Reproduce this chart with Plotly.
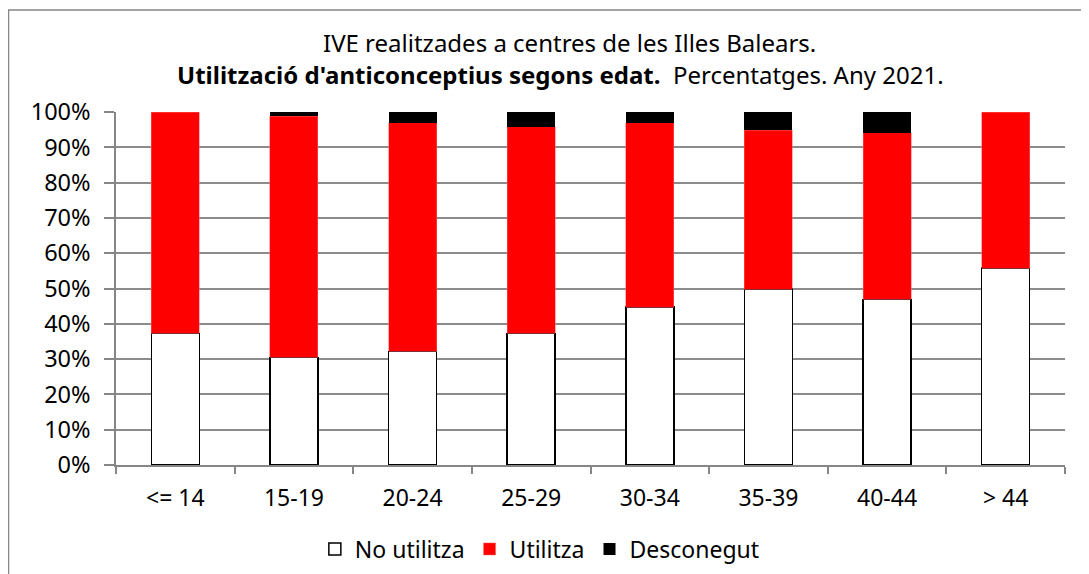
import plotly.graph_objects as go

categories = ["<= 14", "15-19", "20-24", "25-29", "30-34", "35-39", "40-44", "> 44"]
no_utilitza = [37.3, 30.5, 32.2, 37.3, 44.7, 49.8, 46.9, 55.8]
utilitza = [62.7, 68.3, 64.8, 58.5, 52.3, 45.0, 47.2, 44.2]
desconegut = [0.0, 1.2, 3.0, 4.2, 3.0, 5.2, 5.9, 0.0]
y_ticks = [0, 10, 20, 30, 40, 50, 60, 70, 80, 90, 100]
y_tick_labels = [f"{v}%" for v in y_ticks]

FONT = "Noto Sans"
W, H = 1081, 566
L, R, T, B = 108, 24, 104, 109
PW, PH = W - L - R, H - T - B

def px(x):
    return (x - L) / PW

def py(y):
    return (H - B - y) / PH

fig = go.Figure()
fig.add_trace(go.Bar(name="No utilitza", x=categories, y=no_utilitza,
                     marker=dict(color="white", line=dict(color="black", width=1.5))))
fig.add_trace(go.Bar(name="Utilitza", x=categories, y=utilitza,
                     marker=dict(color="#ff0000", line=dict(color="#ff6060", width=0.5))))
fig.add_trace(go.Bar(name="Desconegut", x=categories, y=desconegut,
                     marker=dict(color="black", line=dict(width=0))))

fig.update_layout(
    barmode="stack",
    bargap=0.595,
    width=W, height=H,
    margin=dict(l=L, r=R, t=T, b=B),
    paper_bgcolor="white", plot_bgcolor="white",
    font=dict(family=FONT, size=24, color="black"),
    showlegend=True,
    legend=dict(orientation="h", xref="container", yref="container",
                x=0.492, xanchor="center", y=1 - 541 / H, yanchor="middle",
                font=dict(size=23), traceorder="normal", itemwidth=30),
    shapes=[dict(type="rect", xref="paper", yref="paper",
                 x0=px(0.5), x1=px(W + 20), y0=py(H + 20), y1=py(2),
                 line=dict(color="#868686", width=1.5), layer="below")],
    annotations=[
        dict(text="IVE realitzades a centres de les Illes Balears.", xref="paper", yref="paper",
             x=px(561), y=py(34), xanchor="center", yanchor="middle",
             showarrow=False, font=dict(size=24)),
        dict(text="<b>Utilització d'anticonceptius segons edat.</b>  Percentatges. Any 2021.",
             xref="paper", yref="paper",
             x=px(552), y=py(66), xanchor="center", yanchor="middle",
             showarrow=False, font=dict(size=24)),
    ],
)
fig.update_xaxes(type="category", showline=True, linecolor="#868686", linewidth=1.5,
                 ticks="outside", tickson="boundaries", ticklen=7, tickcolor="#868686",
                 tickwidth=1.5, showgrid=False, zeroline=False,
                 ticklabelstandoff=12, tickfont=dict(size=23))
fig.update_yaxes(range=[0, 100], tickvals=y_ticks, ticktext=y_tick_labels,
                 showline=True, linecolor="#868686", linewidth=1.5,
                 ticks="outside", ticklen=10, tickcolor="#868686", tickwidth=1.5,
                 showgrid=True, gridcolor="#8c8c8c", gridwidth=1.5, zeroline=False,
                 ticklabelstandoff=9, tickfont=dict(size=23.5))

fig.write_html("out.html")
